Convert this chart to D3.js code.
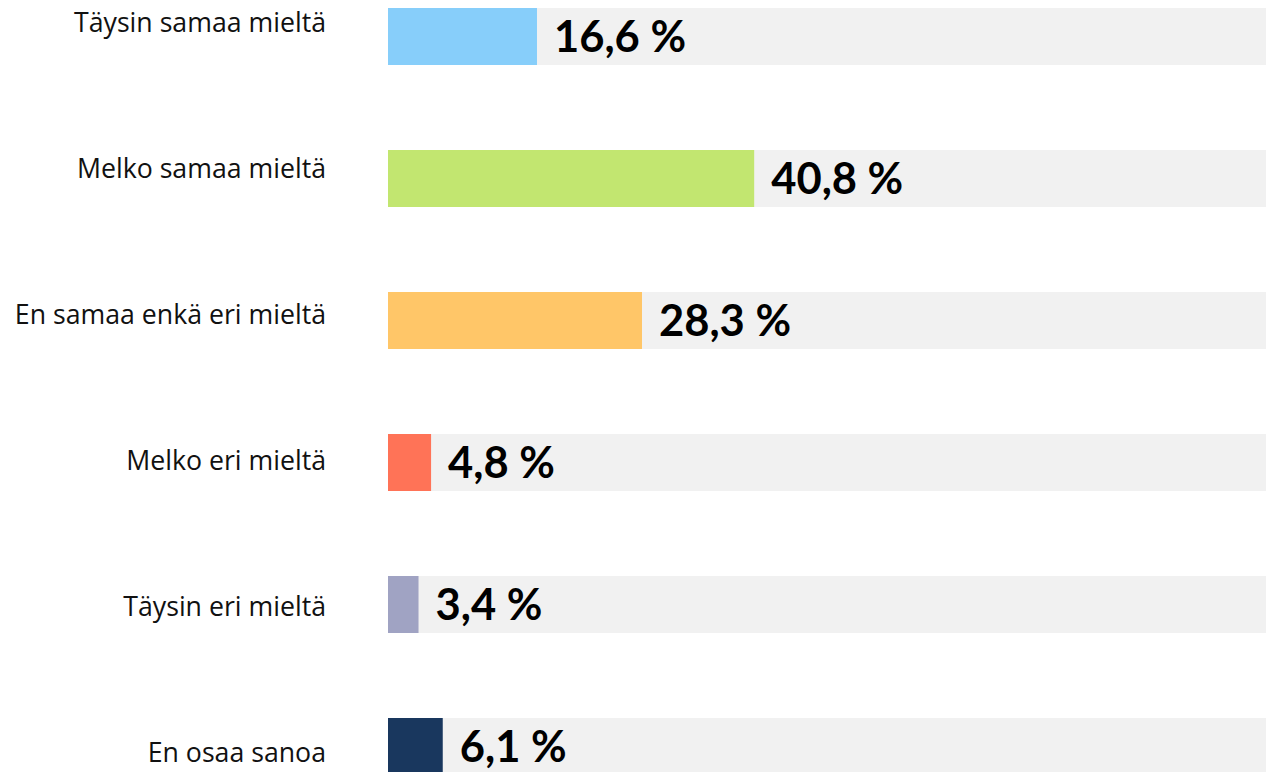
<!DOCTYPE html>
<html>
<head>
<meta charset="utf-8">
<script src="https://cdn.jsdelivr.net/npm/d3@7"></script>
<style>
  html, body { margin: 0; padding: 0; background: #fff; overflow: hidden; }
  svg { display: block; }
</style>
</head>
<body>
<svg id="chart" width="1266" height="772"></svg>
<script>
const categories = ["Täysin samaa mieltä", "Melko samaa mieltä", "En samaa enkä eri mieltä", "Melko eri mieltä", "Täysin eri mieltä", "En osaa sanoa"];
const values = [16.6, 40.8, 28.3, 4.8, 3.4, 6.1];
const colors = ["#87CEFA", "#C2E670", "#FFC668", "#FF7357", "#A0A3C3", "#19375E"];
const valueLabels = ["16,6 %", "40,8 %", "28,3 %", "4,8 %", "3,4 %", "6,1 %"];

const W = 1266, H = 772;
const svg = d3.select("#chart");

const x = d3.scaleLinear().domain([0, 100]).range([388, 1285.5]);
// band step 142, bar height 57
const pad = 85 / 142;
const yb = d3.scaleBand().domain(categories).range([8, 8 + 142 * (categories.length - pad)]).paddingInner(pad).paddingOuter(0).align(0);
const yl = d3.scalePoint().domain(categories).range([32, 762]);

const rows = categories.map((c, i) => ({ c, v: values[i], col: colors[i], lab: valueLabels[i] }));

// background tracks
svg.selectAll("rect.bg").data(rows).join("rect")
  .attr("class", "bg")
  .attr("x", x(0))
  .attr("y", d => yb(d.c))
  .attr("width", W - x(0))
  .attr("height", yb.bandwidth())
  .attr("fill", "#F1F1F1");

// bars
svg.selectAll("rect.bar").data(rows).join("rect")
  .attr("class", "bar")
  .attr("x", x(0))
  .attr("y", d => yb(d.c))
  .attr("width", d => x(d.v) - x(0))
  .attr("height", yb.bandwidth())
  .attr("fill", d => d.col);

// value labels
svg.selectAll("text.val").data(rows).join("text")
  .attr("class", "val")
  .attr("x", d => x(d.v) + 17)
  .attr("y", d => yb(d.c) + yb.bandwidth() / 2 + 15)
  .attr("font-family", "Lato, sans-serif")
  .attr("font-weight", 700)
  .attr("font-size", 43.5)
  .attr("fill", "#000")
  .text(d => d.lab);

// category labels
svg.selectAll("text.cat").data(rows).join("text")
  .attr("class", "cat")
  .attr("x", 326)
  .attr("y", d => yl(d.c))
  .attr("text-anchor", "end")
  .attr("font-family", "'Open Sans', sans-serif")
  .attr("font-size", 26.7)
  .attr("fill", "#111")
  .text(d => d.c);
</script>
</body>
</html>
